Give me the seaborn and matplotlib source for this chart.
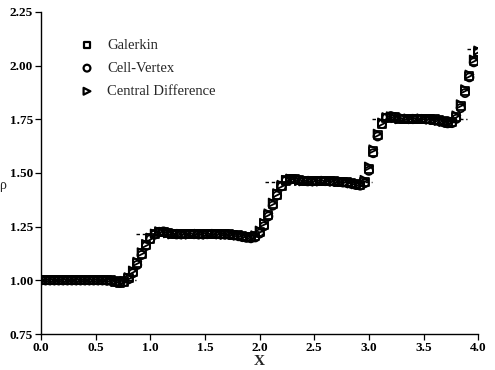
import numpy as np
import pandas as pd
import matplotlib
matplotlib.use("Agg")
import matplotlib.pyplot as plt
import seaborn as sns

# grid: 101 cells on [0, 4]
x = np.round(np.arange(101) * 0.04, 2)

galerkin = [
    1.000, 1.000, 1.000, 1.000, 1.000, 1.000, 1.000, 1.000, 1.000, 1.000,
    1.000, 1.000, 1.000, 1.000, 1.000, 1.000, 1.000, 0.995, 0.990, 0.995,
    1.010, 1.040, 1.080, 1.125, 1.165, 1.195, 1.215, 1.225, 1.225, 1.220,
    1.216, 1.215, 1.215, 1.214, 1.215, 1.216, 1.215, 1.215, 1.214, 1.215,
    1.216, 1.215, 1.215, 1.214, 1.213, 1.212, 1.208, 1.204, 1.200, 1.205,
    1.225, 1.260, 1.305, 1.355, 1.400, 1.440, 1.465, 1.470, 1.470, 1.466,
    1.463, 1.462, 1.462, 1.461, 1.462, 1.463, 1.462, 1.461, 1.460, 1.459,
    1.457, 1.454, 1.449, 1.445, 1.460, 1.520, 1.600, 1.675, 1.730, 1.755,
    1.762, 1.758, 1.753, 1.752, 1.751, 1.752, 1.753, 1.752, 1.751, 1.750,
    1.749, 1.746, 1.740, 1.735, 1.736, 1.760, 1.810, 1.880, 1.950, 2.020,
    2.065,
]

cell_vertex = [
    1.000, 1.000, 1.000, 1.000, 1.000, 1.000, 1.000, 1.000, 1.000, 1.000,
    1.000, 1.000, 1.000, 1.000, 1.000, 0.999, 0.997, 0.992, 0.988, 0.993,
    1.005, 1.033, 1.072, 1.118, 1.160, 1.192, 1.213, 1.226, 1.228, 1.222,
    1.217, 1.214, 1.214, 1.215, 1.216, 1.215, 1.214, 1.214, 1.215, 1.216,
    1.215, 1.214, 1.213, 1.212, 1.210, 1.207, 1.202, 1.198, 1.196, 1.200,
    1.218, 1.252, 1.298, 1.348, 1.395, 1.437, 1.464, 1.472, 1.472, 1.467,
    1.463, 1.461, 1.461, 1.462, 1.463, 1.462, 1.461, 1.460, 1.458, 1.456,
    1.453, 1.449, 1.444, 1.441, 1.452, 1.510, 1.592, 1.670, 1.728, 1.757,
    1.765, 1.760, 1.754, 1.751, 1.751, 1.752, 1.752, 1.751, 1.750, 1.748,
    1.745, 1.741, 1.736, 1.731, 1.732, 1.752, 1.802, 1.872, 1.945, 2.015,
    2.062,
]

central_diff = [
    1.000, 1.000, 1.000, 1.000, 1.000, 1.000, 1.000, 1.000, 1.000, 1.000,
    1.000, 1.000, 1.000, 1.000, 1.000, 1.000, 0.998, 0.994, 0.992, 0.998,
    1.015, 1.046, 1.087, 1.131, 1.170, 1.199, 1.218, 1.229, 1.226, 1.219,
    1.214, 1.216, 1.217, 1.214, 1.213, 1.216, 1.217, 1.214, 1.213, 1.216,
    1.217, 1.214, 1.212, 1.213, 1.211, 1.208, 1.205, 1.201, 1.202, 1.210,
    1.232, 1.268, 1.312, 1.362, 1.406, 1.445, 1.468, 1.474, 1.468, 1.462,
    1.461, 1.464, 1.464, 1.460, 1.460, 1.464, 1.463, 1.459, 1.458, 1.460,
    1.456, 1.451, 1.447, 1.448, 1.468, 1.530, 1.610, 1.683, 1.735, 1.760,
    1.764, 1.755, 1.750, 1.754, 1.754, 1.750, 1.750, 1.754, 1.752, 1.748,
    1.746, 1.742, 1.737, 1.736, 1.742, 1.768, 1.820, 1.890, 1.958, 2.028,
    2.070,
]

# exact solution: constant states and shock positions
exact_shocks = [0.87, 2.05, 3.03, 3.90]
exact_states = [1.0, 1.215, 1.46, 1.75, 2.075]

sns.set_style("ticks")
plt.rcParams["font.family"] = ["Liberation Serif", "DejaVu Serif"]
serif = ["Liberation Serif", "DejaVu Serif"]

fig = plt.figure(figsize=(4.95, 3.7), dpi=100)
ax = fig.add_axes([0.083, 0.097, 0.883, 0.871])

# horizontal pieces of the exact solution (no vertical jumps drawn)
edges = [0.0] + exact_shocks + [4.0]
for i, rho in enumerate(exact_states):
    sns.lineplot(x=[edges[i], edges[i + 1]], y=[rho, rho], ax=ax,
                 color="black", lw=1.0, linestyle=(0, (2.5, 2.0)),
                 estimator=None, zorder=1)

series = [("Galerkin", galerkin, "s"),
          ("Cell-Vertex", cell_vertex, "o"),
          ("Central Difference", central_diff, ">")]
for name, vals, mk in series:
    df = pd.DataFrame({"x": x, "rho": vals})
    sns.scatterplot(data=df, x="x", y="rho", ax=ax, marker=mk, s=34,
                    facecolors="none", edgecolor="black", linewidth=1.3,
                    label=name, zorder=3)

ax.set_xlim(0, 4)
ax.set_ylim(0.75, 2.25)
ax.set_xticks([0, 0.5, 1.0, 1.5, 2.0, 2.5, 3.0, 3.5, 4.0])
ax.set_xticklabels([f"{v:.1f}" for v in ax.get_xticks()])
ax.set_yticks([0.75, 1.0, 1.25, 1.5, 1.75, 2.0, 2.25])
ax.set_yticklabels([f"{v:.2f}" for v in ax.get_yticks()])
for lab in ax.get_xticklabels() + ax.get_yticklabels():
    lab.set_fontweight("bold")
    lab.set_fontsize(9.5)
    lab.set_family(serif)
ax.tick_params(length=4, width=0.9, colors="black", pad=2)
for sp in ["left", "bottom"]:
    ax.spines[sp].set_linewidth(1.0)
    ax.spines[sp].set_color("black")
sns.despine(ax=ax)

ax.set_xlabel("X", fontsize=11, fontweight="bold", family=serif)
ax.xaxis.set_label_coords(0.5, -0.064)
ax.set_ylabel("ρ", fontsize=10, rotation=0, family=serif)
ax.yaxis.set_label_coords(-0.088, 0.44)

leg = ax.legend(loc="upper left", bbox_to_anchor=(0.075, 0.935), frameon=False,
                prop={"family": serif, "size": 10.5},
                handletextpad=0.9, labelspacing=0.68,
                borderaxespad=0, handlelength=1.0)
for h in leg.legend_handles:
    h.set_sizes([24])
    h.set_linewidth(1.6)

fig.savefig("out.png", dpi=100)
